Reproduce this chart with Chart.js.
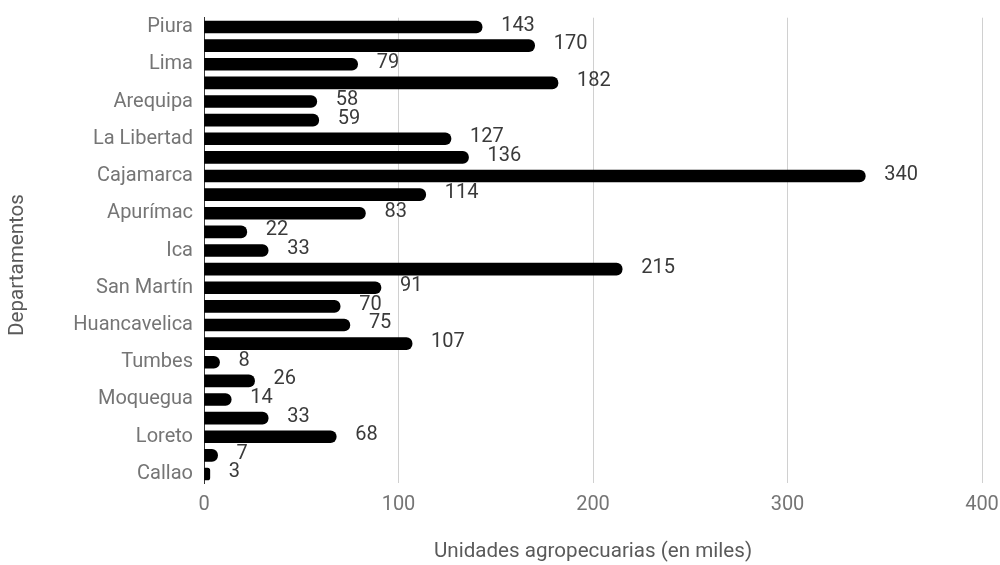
<!DOCTYPE html>
<html><head><meta charset="utf-8">
<script src="https://cdn.jsdelivr.net/npm/chart.js@4"></script>
<style>html,body{margin:0;padding:0;background:#fff}#wrap{width:1000px;height:565px}</style>
</head><body><div id="wrap"><canvas id="c" width="1000" height="565"></canvas></div>
<script>
const departamentos = ["Piura","Áncash","Lima","Cusco","Arequipa","Lambayeque","La Libertad","Junín","Cajamarca","Huánuco","Apurímac","Tacna","Ica","Puno","San Martín","Amazonas","Huancavelica","Ayacucho","Tumbes","Pasco","Moquegua","Ucayali","Loreto","Madre de Dios","Callao"];
const unidades = [143,170,79,182,58,59,127,136,340,114,83,22,33,215,91,70,75,107,8,26,14,33,68,7,3];
const xTicks = [0,100,200,300,400];
const xTitle = 'Unidades agropecuarias (en miles)';
const yTitle = 'Departamentos';

const valueLabels = {
  id: 'valueLabels',
  afterDatasetsDraw(chart) {
    const ctx = chart.ctx;
    const meta = chart.getDatasetMeta(0);
    ctx.save();
    ctx.font = '20px Roboto';
    ctx.fillStyle = '#3a3a3a';
    ctx.textBaseline = 'middle';
    ctx.textAlign = 'left';
    meta.data.forEach((bar, i) => {
      ctx.fillText(String(unidades[i]), bar.x + 19, bar.y - 1.5);
    });
    ctx.restore();
  }
};

const axisTitles = {
  id: 'axisTitles',
  afterDraw(chart) {
    const ctx = chart.ctx;
    const area = chart.chartArea;
    ctx.save();
    ctx.font = '20.6px Roboto';
    ctx.fillStyle = '#5a5a5a';
    ctx.textAlign = 'center';
    ctx.textBaseline = 'middle';
    ctx.fillText(xTitle, (area.left + area.right) / 2, 552);
    ctx.translate(18, 265);
    ctx.rotate(-Math.PI / 2);
    ctx.fillText(yTitle, 0, 0);
    ctx.restore();
  }
};

new Chart(document.getElementById('c'), {
  type: 'bar',
  data: {
    labels: departamentos,
    datasets: [{
      data: unidades,
      backgroundColor: '#000',
      borderRadius: 6,
      borderSkipped: 'start',
      barThickness: 12
    }]
  },
  options: {
    indexAxis: 'y',
    responsive: false,
    animation: false,
    layout: { padding: { left: 0, right: 18, top: 17.7, bottom: 0 } },
    plugins: { legend: { display: false }, tooltip: { enabled: false } },
    scales: {
      x: {
        min: 0, max: 400,
        afterBuildTicks(scale) { scale.ticks = xTicks.map(v => ({ value: v })); },
        afterFit(scale) { scale.height = 81.7; scale.paddingLeft = 0; scale.paddingRight = 0; },
        grid: { color: '#d0d0d0', drawTicks: false },
        border: { display: false },
        ticks: { color: '#757575', font: { family: 'Roboto', size: 20 }, padding: 10 }
      },
      y: {
        afterFit(scale) { scale.width = 204; scale.paddingTop = 0; scale.paddingBottom = 0; },
        grid: { display: false, drawTicks: false },
        border: { display: true, color: '#333', width: 1 },
        ticks: {
          autoSkip: false,
          color: '#757575',
          font: { family: 'Roboto', size: 20 },
          padding: 11,
          callback(v, i) { return i % 2 === 0 ? departamentos[i] : ''; }
        }
      }
    }
  },
  plugins: [valueLabels, axisTitles]
});
</script></body></html>
